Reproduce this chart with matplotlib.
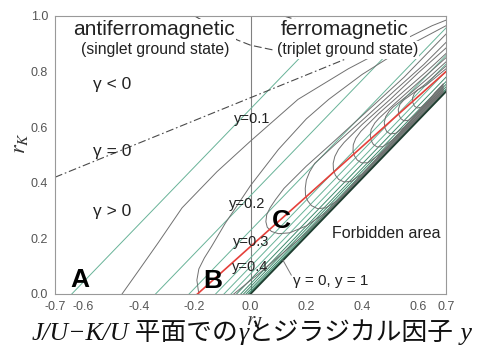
import matplotlib
matplotlib.use('Agg')
import matplotlib.pyplot as plt

plt.rcParams['font.family'] = ['Liberation Sans', 'DejaVu Sans']
plt.rcParams['axes.unicode_minus'] = False
plt.rcParams['mathtext.fontset'] = 'stix'

# ---------------- data ----------------
x_ticks = [-0.7, -0.6, -0.4, -0.2, 0.0, 0.2, 0.4, 0.6, 0.7]
x_tick_labels = ['-0.7', '-0.6', '-0.4', '-0.2', '0.0', '0.2', '0.4', '0.6', '0.7']
y_ticks = [0.0, 0.2, 0.4, 0.6, 0.8, 1.0]
y_tick_labels = ['0.0', '0.2', '0.4', '0.6', '0.8', '1.0']

# green iso-y lines: start (x on r_K = 0) and end point
green_x0 = [-0.64, -0.34, -0.22, -0.125, -0.095, -0.07, -0.05, -0.035, -0.025, -0.016, -0.009, -0.004]
green_x1 = [0.20, 0.50, 0.70, 0.70, 0.70, 0.70, 0.70, 0.70, 0.70, 0.70, 0.70, 0.70]
green_y1 = [0.874, 0.874, 0.957, 0.858, 0.827, 0.801, 0.780, 0.764, 0.754, 0.745, 0.737, 0.732]

# boundary of forbidden area (gamma = 0, y = 1)
bound_x = [0.0, 0.70]
bound_y = [0.0, 0.728]

# red line
red_x = [-0.19, 0.70]
red_y = [0.0, 0.80]

# gamma = 0 curves
d1_x = [-0.70, 0.45]
d1_y = [0.42, 0.89]
d2_x = [-0.20, -0.13, -0.048, 0.0, 0.08, 0.30]
d2_y = [1.00, 0.96, 0.914, 0.895, 0.878, 0.865]
d3_x = [0.12, 0.20, 0.28]
d3_y = [1.00, 0.975, 0.955]

# grey gamma contours
u1_x = [-0.46, -0.40, -0.33, -0.245, -0.12, 0.0, 0.17, 0.35, 0.52, 0.65, 0.70]
u1_y = [0.0, 0.085, 0.185, 0.31, 0.44, 0.55, 0.70, 0.81, 0.90, 0.965, 0.985]
u2_x = [-0.185, -0.192, -0.185, -0.165, -0.14, -0.09, 0.0, 0.1, 0.2, 0.28, 0.4, 0.55, 0.70]
u2_y = [0.0, 0.05, 0.09, 0.13, 0.17, 0.255, 0.39, 0.52, 0.63, 0.70, 0.79, 0.885, 0.965]
u2b_x = [-0.06, 0.05, 0.2, 0.4, 0.69]
u2b_y = [0.0, 0.09, 0.22, 0.42, 0.724]
u3_x = [0.69, 0.5, 0.33, 0.27, 0.2, 0.14, 0.10, 0.075, 0.06, 0.055, 0.058, 0.07, 0.09, 0.12, 0.2, 0.3, 0.42, 0.55, 0.70]
u3_y = [0.728, 0.53, 0.353, 0.293, 0.245, 0.22, 0.217, 0.225, 0.24, 0.26, 0.285, 0.31, 0.34, 0.38, 0.46, 0.55, 0.66, 0.78, 0.935]
u4_x = [0.69, 0.38, 0.31, 0.27, 0.24, 0.218, 0.205, 0.197, 0.196, 0.2, 0.212, 0.23, 0.3, 0.4, 0.52, 0.62, 0.70]
u4_y = [0.732, 0.409, 0.335, 0.31, 0.307, 0.318, 0.335, 0.355, 0.38, 0.41, 0.44, 0.47, 0.535, 0.625, 0.735, 0.825, 0.905]
u5_x = [0.69, 0.46, 0.4, 0.36, 0.335, 0.316, 0.304, 0.297, 0.296, 0.302, 0.315, 0.335, 0.4, 0.5, 0.6, 0.70]
u5_y = [0.736, 0.496, 0.432, 0.405, 0.403, 0.412, 0.427, 0.447, 0.47, 0.495, 0.52, 0.545, 0.61, 0.70, 0.795, 0.885]
u6_x = [0.69, 0.52, 0.46, 0.42, 0.397, 0.382, 0.372, 0.367, 0.368, 0.377, 0.395, 0.46, 0.55, 0.63, 0.70]
u6_y = [0.74, 0.563, 0.50, 0.472, 0.472, 0.482, 0.497, 0.515, 0.537, 0.56, 0.585, 0.65, 0.73, 0.80, 0.865]
u7_x = [0.69, 0.56, 0.51, 0.475, 0.453, 0.44, 0.432, 0.429, 0.432, 0.445, 0.46, 0.52, 0.6, 0.70]
u7_y = [0.744, 0.608, 0.555, 0.53, 0.529, 0.538, 0.552, 0.57, 0.592, 0.615, 0.632, 0.688, 0.76, 0.85]
u8_x = [0.69, 0.59, 0.55, 0.52, 0.5, 0.488, 0.481, 0.479, 0.484, 0.497, 0.51, 0.57, 0.64, 0.70]
u8_y = [0.748, 0.644, 0.60, 0.578, 0.576, 0.584, 0.598, 0.617, 0.638, 0.658, 0.672, 0.72, 0.78, 0.835]
u9_x = [0.69, 0.625, 0.59, 0.566, 0.549, 0.538, 0.531, 0.529, 0.535, 0.548, 0.56, 0.62, 0.70]
u9_y = [0.752, 0.684, 0.645, 0.625, 0.623, 0.631, 0.645, 0.663, 0.682, 0.697, 0.706, 0.75, 0.82]
u10_x = [0.69, 0.66, 0.635, 0.612, 0.597, 0.587, 0.581, 0.58, 0.587, 0.6, 0.63, 0.70]
u10_y = [0.756, 0.724, 0.69, 0.672, 0.669, 0.676, 0.689, 0.705, 0.722, 0.735, 0.752, 0.81]

grey_curves = [(u1_x, u1_y), (u2_x, u2_y), (u2b_x, u2b_y), (u3_x, u3_y), (u4_x, u4_y),
               (u5_x, u5_y), (u6_x, u6_y), (u7_x, u7_y), (u8_x, u8_y), (u9_x, u9_y),
               (u10_x, u10_y)]

y_label_texts = ['y=0.1', 'y=0.2', 'y=0.3', 'y=0.4']
y_label_x = [0.005, -0.011, 0.002, 0.0]
y_label_y = [0.628, 0.324, 0.187, 0.097]

# ---------------- figure ----------------
fig = plt.figure(figsize=(4.82, 3.45), dpi=100)
ax = fig.add_axes([55 / 482, 1 - 294 / 345, 391 / 482, 278 / 345])
ax.set_xlim(-0.7, 0.7)
ax.set_ylim(0, 1)

grey = '#707070'
green = '#68b398'
dgreen = '#3f8a6d'

for b, x1, y1 in zip(green_x0, green_x1, green_y1):
    c = dgreen if b >= -0.05 else green
    ax.plot([b, x1], [0.0, y1], color=c, lw=0.7, zorder=2)

for cx, cy in grey_curves:
    ax.plot(cx, cy, color=grey, lw=0.7, zorder=2.2, solid_joinstyle='round')

ax.plot(bound_x, bound_y, color='#1f3d30', lw=1.3, zorder=2.5)
ax.plot(red_x, red_y, color='#e5403a', lw=1.2, zorder=3)

ax.plot(d1_x, d1_y, color='#4a4a4a', lw=0.8, ls=(0, (7, 2.5, 1.5, 2.5)), zorder=2.3)
ax.plot(d2_x, d2_y, color='#4a4a4a', lw=0.8, ls=(0, (7, 3)), zorder=2.3)
ax.plot(d3_x, d3_y, color='#4a4a4a', lw=0.8, ls=(0, (7, 3)), zorder=2.3)

ax.axvline(0.0, color='#808080', lw=0.8, zorder=1.5)

# leader line for gamma=0, y=1
ax.plot([0.116, 0.146], [0.122, 0.068], color='#777777', lw=0.7, zorder=3)

# ---------------- texts ----------------
tc = '#222222'
wb = dict(facecolor='white', edgecolor='none', pad=1.0)
ax.text(-0.345, 0.951, 'antiferromagnetic', fontsize=15, color=tc, ha='center', va='center', bbox=wb, zorder=6)
ax.text(-0.342, 0.878, '(singlet ground state)', fontsize=11.3, color=tc, ha='center', va='center', bbox=wb, zorder=6)
ax.text(0.338, 0.951, 'ferromagnetic', fontsize=15, color=tc, ha='center', va='center', bbox=wb, zorder=6)
ax.text(0.347, 0.878, '(triplet ground state)', fontsize=11.3, color=tc, ha='center', va='center', bbox=wb, zorder=6)

ax.text(-0.494, 0.752, 'γ < 0', fontsize=12.5, color=tc, ha='center', va='center', zorder=6)
ax.text(-0.494, 0.511, 'γ = 0', fontsize=12.5, color=tc, ha='center', va='center', zorder=6)
ax.text(-0.494, 0.297, 'γ > 0', fontsize=12.5, color=tc, ha='center', va='center', zorder=6)

for s, lx, ly in zip(y_label_texts, y_label_x, y_label_y):
    ax.text(lx, ly, s, fontsize=10.5, color=tc, ha='center', va='center', zorder=6)

ax.text(-0.61, 0.05, 'A', fontsize=19, fontweight='bold', color='black', ha='center', va='center', zorder=6)
ax.text(-0.134, 0.045, 'B', fontsize=19, fontweight='bold', color='black', ha='center', va='center', zorder=6)
ax.text(0.109, 0.264, 'C', fontsize=19, fontweight='bold', color='black', ha='center', va='center', zorder=6)

ax.text(0.485, 0.219, 'Forbidden area', fontsize=11.5, color=tc, ha='center', va='center', zorder=6)
ax.text(0.286, 0.045, 'γ = 0, y = 1', fontsize=11, color=tc, ha='center', va='center', zorder=6)

# axes styling
ax.set_xticks(x_ticks)
ax.set_xticklabels(x_tick_labels)
ax.set_yticks(y_ticks)
ax.set_yticklabels(y_tick_labels)
ax.tick_params(length=0, labelsize=9, labelcolor='#555555', pad=5)
for sp in ax.spines.values():
    sp.set_color('#999999')
    sp.set_linewidth(0.8)

ax.text(-0.09, 0.543, r'$r_K$', transform=ax.transAxes, rotation=90, fontsize=16,
        ha='center', va='center', color='#333333')
ax.text(0.5115, -0.097, r'$r_J$', transform=ax.transAxes, fontsize=15,
        ha='center', va='center', color='#333333')

# ---------------- caption ----------------
renderer = fig.canvas.get_renderer()
pieces = [
    ('J/U−K/U', dict(family=['Liberation Serif'], style='italic')),
    (' 平面での', dict(family=['Noto Sans CJK JP'])),
    ('γ', dict(family=['Liberation Serif'], style='italic')),
    ('とジラジカル因子', dict(family=['Noto Sans CJK JP'])),
    (' y', dict(family=['Liberation Serif'], style='italic')),
]
cx = 32 / 482
cy = 1 - 340 / 345
for s, props in pieces:
    t = fig.text(cx, cy, s, fontsize=18.5, color='#111111', va='baseline', ha='left', **props)
    bb = t.get_window_extent(renderer)
    cx = bb.x1 / fig.bbox.width

fig.savefig('out.png', dpi=100)
